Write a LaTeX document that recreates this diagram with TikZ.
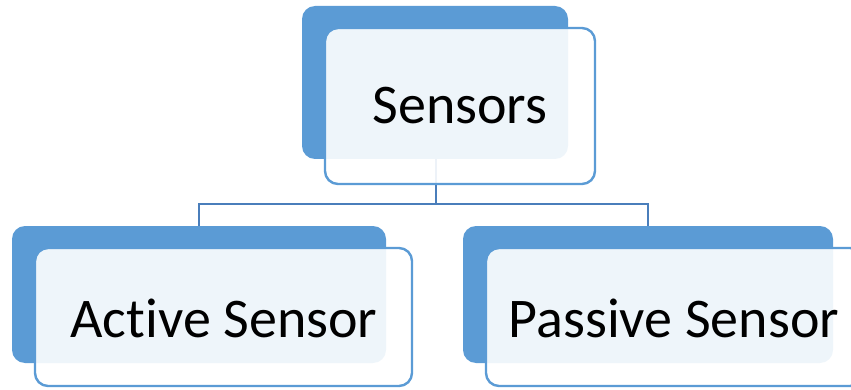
\documentclass[tikz,border=0pt]{standalone}
\usepackage{fontspec}
\setmainfont[Ligatures={NoCommon}]{Carlito}
\definecolor{accent}{HTML}{5B9BD5}
\definecolor{linkblue}{HTML}{4A7EBB}
\tikzset{
  x=1pt, y=-1pt,
  backplate/.style={fill=accent, rounded corners=13pt},
  frontcard/.style={draw=accent, line width=2.4pt, fill=white, fill opacity=0.9,
    draw opacity=1, rounded corners=13pt},
  cardtext/.style={font=\fontsize{56}{60}\selectfont, text=black, inner sep=0pt},
  link/.style={draw=linkblue, line width=2.6pt}
}
\begin{document}
\begin{tikzpicture}
\useasboundingbox (0,0) rectangle (851,390);
\clip (0,0) rectangle (851,390);

% dark back plates
\fill[backplate] (302,6) rectangle (568,159);
\fill[backplate] (12,226) rectangle (386,363);
\fill[backplate] (463,226) rectangle (833,363);

% anchor points of the tree connectors
\coordinate (rootbot) at (436,159);
\coordinate (bus) at (436,204);
\coordinate (lefttop) at (199,226);
\coordinate (righttop) at (648,226);

% connectors (under the cards)
\draw[link] (rootbot) -- (bus);
\draw[link] (lefttop) |- (bus) -| (righttop);

% front cards
\draw[frontcard] (325,28) rectangle (595,184);
\draw[frontcard] (35,248) rectangle (412,386);
\draw[frontcard] (486,248) rectangle (863,386);

% labels
\node[cardtext] (root) at (460,106) {Sensors};
\node[cardtext] (active) at (224,318) {Active Sensor};
\node[cardtext] (passive) at (674,318) {Passive Sensor};
\end{tikzpicture}
\end{document}
